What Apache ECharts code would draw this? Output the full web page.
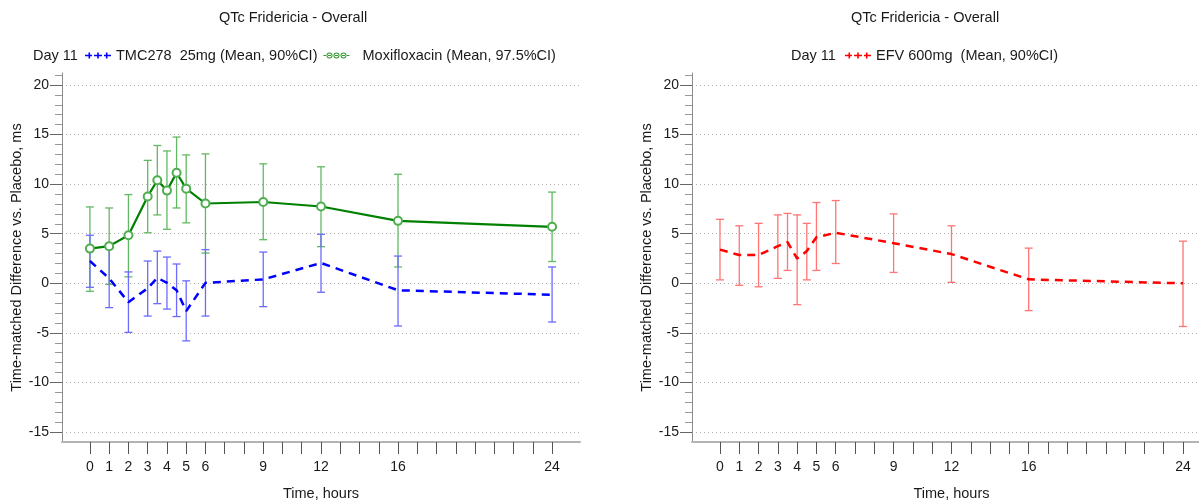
<!DOCTYPE html>
<html>
<head>
<meta charset="utf-8">
<script src="https://cdn.jsdelivr.net/npm/echarts@6/dist/echarts.min.js"></script>
<style>
html,body{margin:0;padding:0;background:#fff;}
#c{width:1199px;height:501px;}
</style>
</head>
<body>
<div id="c"></div>
<script>
// ---- data ----
const hours = [0, 1, 2, 3, 3.5, 4, 4.5, 5, 6, 9, 12, 16, 24];

const tmcMean = [2.25, 0.5, -1.9, -0.5, 0.55, 0.05, -0.7, -2.8, 0.05, 0.4, 2.05, -0.7, -1.15];
const tmcLow  = [-0.4, -2.45, -4.95, -3.3, -2.05, -2.6, -3.35, -5.8, -3.3, -2.35, -0.9, -4.3, -3.9];
const tmcHigh = [4.85, 3.5, 1.15, 2.25, 3.25, 2.65, 1.95, 0.25, 3.4, 3.15, 4.95, 2.75, 1.65];

const moxMean = [3.5, 3.75, 4.85, 8.75, 10.4, 9.35, 11.15, 9.55, 8.05, 8.2, 7.75, 6.3, 5.7];
const moxLow  = [-0.8, -0.1, 0.65, 5.1, 6.9, 5.45, 7.6, 6.1, 3.05, 4.4, 3.7, 1.65, 2.2];
const moxHigh = [7.7, 7.6, 8.95, 12.4, 13.9, 13.35, 14.75, 12.95, 13.05, 12.05, 11.75, 11.0, 9.2];

const efvMean = [3.4, 2.85, 2.85, 3.75, 4.15, 2.5, 3.25, 4.65, 5.1, 4.05, 2.95, 0.4, 0.0];
const efvLow  = [0.35, -0.2, -0.35, 0.5, 1.3, -2.15, 0.35, 1.3, 2.0, 1.1, 0.1, -2.75, -4.35];
const efvHigh = [6.45, 5.8, 6.05, 6.9, 7.05, 6.9, 6.05, 8.15, 8.35, 7.0, 5.8, 3.55, 4.25];

const xTickValues = [0,1,2,3,4,5,6,7,8,9,10,11,12,13,14,15,16,17,18,19,20,21,22,23,24];
const xLabelValues = [0, 1, 2, 3, 4, 5, 6, 9, 12, 16, 24];
const yLabelValues = [-15, -10, -5, 0, 5, 10, 15, 20];

const titleText = 'QTc Fridericia - Overall';
const dayText = 'Day 11';
const tmcName = 'TMC278  25mg (Mean, 90%CI)';
const moxName = 'Moxifloxacin (Mean, 97.5%CI)';
const efvName = 'EFV 600mg  (Mean, 90%CI)';
const yName = 'Time-matched Difference vs. Placebo, ms';
const xName = 'Time, hours';

// ---- helpers ----
const FONT = '"Liberation Sans", Arial, sans-serif';
const TXT = '#1a1a1a';
const BIG = 14.5;

function pairs(xs, ys) { return xs.map((x, i) => [x, ys[i]]); }
function bars(xs, lo, hi) { return xs.map((x, i) => [x, lo[i], hi[i]]); }

function errorSeries(idx, data, color) {
  return {
    type: 'custom',
    xAxisIndex: idx, yAxisIndex: idx,
    silent: true, z: 2,
    encode: { x: 0, y: [1, 2] },
    data: data,
    renderItem: function (params, api) {
      const x = api.value(0);
      const lo = api.coord([x, api.value(1)]);
      const hi = api.coord([x, api.value(2)]);
      const w = 4;
      const st = { stroke: color, lineWidth: 1.3 };
      return {
        type: 'group',
        children: [
          { type: 'line', shape: { x1: lo[0], y1: lo[1], x2: hi[0], y2: hi[1] }, style: st },
          { type: 'line', shape: { x1: lo[0] - w, y1: lo[1], x2: lo[0] + w, y2: lo[1] }, style: st },
          { type: 'line', shape: { x1: hi[0] - w, y1: hi[1], x2: hi[0] + w, y2: hi[1] }, style: st }
        ]
      };
    }
  };
}

function xAxisCfg(idx) {
  return {
    type: 'value', gridIndex: idx,
    min: -1.45, max: 25.45,
    name: xName, nameLocation: 'middle', nameGap: 44,
    nameTextStyle: { fontFamily: FONT, fontSize: BIG, color: TXT },
    axisLine: { show: true, onZero: false, lineStyle: { color: '#b4b4b4', width: 2 } },
    axisTick: { show: true, length: 12, customValues: xTickValues, lineStyle: { color: '#555', width: 1 } },
    axisLabel: { customValues: xLabelValues, margin: 18, fontFamily: FONT, fontSize: 14, color: TXT },
    splitLine: { show: false }
  };
}

function yAxisCfg(idx) {
  return {
    type: 'value', gridIndex: idx,
    min: -16, max: 21.21, splitNumber: 8,
    name: yName, nameLocation: 'middle', nameGap: 37, nameRotate: 90,
    nameTextStyle: { fontFamily: FONT, fontSize: BIG, color: TXT },
    axisLine: { show: true, onZero: false, lineStyle: { color: '#8c8c8c', width: 1 } },
    axisTick: { show: true, length: 12, customValues: yLabelValues, lineStyle: { color: '#666' } },
    minorTick: { show: true, splitNumber: 5, length: 7, lineStyle: { color: '#999' } },
    axisLabel: { customValues: yLabelValues, margin: 13, fontFamily: FONT, fontSize: 14, color: TXT },
    splitLine: { show: true, lineStyle: { color: '#b0b0b0', type: [1, 3], width: 1 } },
    minorSplitLine: { show: false }
  };
}

const plusIcon = 'path://M0,3.2h7v1.6h-7z M9,3.2h8v1.6h-8z M19,3.2h7v1.6h-7z M3.5,1h1.6v6h-1.6z M12.2,1h1.6v6h-1.6z M20.9,1h1.6v6h-1.6z';
const ringIcon = 'path://M0,3.4h26v1.2h-26z M3,4a3,3 0 1,0 6,0a3,3 0 1,0 -6,0z M4,4a2,2 0 1,1 4,0a2,2 0 1,1 -4,0z M10,4a3,3 0 1,0 6,0a3,3 0 1,0 -6,0z M11,4a2,2 0 1,1 4,0a2,2 0 1,1 -4,0z M17,4a3,3 0 1,0 6,0a3,3 0 1,0 -6,0z M18,4a2,2 0 1,1 4,0a2,2 0 1,1 -4,0z';

const legendText = { fontFamily: FONT, fontSize: BIG, color: TXT };

const option = {
  animation: false,
  backgroundColor: '#fff',
  graphic: [
    { type: 'text', x: 293, y: 18, style: { text: titleText, textAlign: 'center', textVerticalAlign: 'middle', font: BIG + 'px ' + FONT, fill: TXT } },
    { type: 'text', x: 925, y: 18, style: { text: titleText, textAlign: 'center', textVerticalAlign: 'middle', font: BIG + 'px ' + FONT, fill: TXT } },
    { type: 'text', x: 33, y: 55.5, style: { text: dayText, textAlign: 'left', textVerticalAlign: 'middle', font: BIG + 'px ' + FONT, fill: TXT } },
    { type: 'text', x: 791, y: 55.5, style: { text: dayText, textAlign: 'left', textVerticalAlign: 'middle', font: BIG + 'px ' + FONT, fill: TXT } }
  ],
  legend: [
    {
      left: 85, top: 48, padding: 0, itemWidth: 26, itemHeight: 8, itemGap: 6,
      textStyle: legendText,
      formatter: function (n) { return n === moxName ? '  ' + n : n; },
      data: [
        { name: tmcName, icon: plusIcon, itemStyle: { color: '#0000ff', borderWidth: 0 } },
        { name: moxName, icon: ringIcon, itemStyle: { color: '#2e9a2e', borderWidth: 0 } }
      ]
    },
    {
      left: 845, top: 48, padding: 0, itemWidth: 26, itemHeight: 8,
      textStyle: legendText,
      data: [
        { name: efvName, icon: plusIcon, itemStyle: { color: '#ff0000', borderWidth: 0 } }
      ]
    }
  ],
  grid: [
    { left: 62, top: 73, width: 518, height: 369, outerBoundsMode: 'none', containLabel: false },
    { left: 692, top: 73, width: 519, height: 369, outerBoundsMode: 'none', containLabel: false }
  ],
  xAxis: [xAxisCfg(0), xAxisCfg(1)],
  yAxis: [yAxisCfg(0), yAxisCfg(1)],
  series: [
    errorSeries(0, bars(hours, moxLow, moxHigh), '#62b862'),
    errorSeries(0, bars(hours, tmcLow, tmcHigh), '#6b6bff'),
    errorSeries(1, bars(hours, efvLow, efvHigh), '#ff7474'),
    {
      name: moxName, type: 'line', xAxisIndex: 0, yAxisIndex: 0, z: 4,
      data: pairs(hours, moxMean),
      symbol: 'emptyCircle', symbolSize: 8,
      itemStyle: { color: '#4fae4f', borderColor: '#4fae4f', borderWidth: 1 },
      lineStyle: { color: '#008000', width: 2.2 }
    },
    {
      name: tmcName, type: 'line', xAxisIndex: 0, yAxisIndex: 0, z: 4,
      data: pairs(hours, tmcMean),
      symbol: 'none',
      itemStyle: { color: '#0000ff' },
      lineStyle: { color: '#0000ff', width: 2.5, type: [8, 6] }
    },
    {
      name: efvName, type: 'line', xAxisIndex: 1, yAxisIndex: 1, z: 4,
      data: pairs(hours, efvMean),
      symbol: 'none',
      itemStyle: { color: '#ff0000' },
      lineStyle: { color: '#ff0000', width: 2.5, type: [8, 6] }
    }
  ]
};

const chart = echarts.init(document.getElementById('c'), null, { renderer: 'canvas' });
chart.setOption(option);
</script>
</body>
</html>
